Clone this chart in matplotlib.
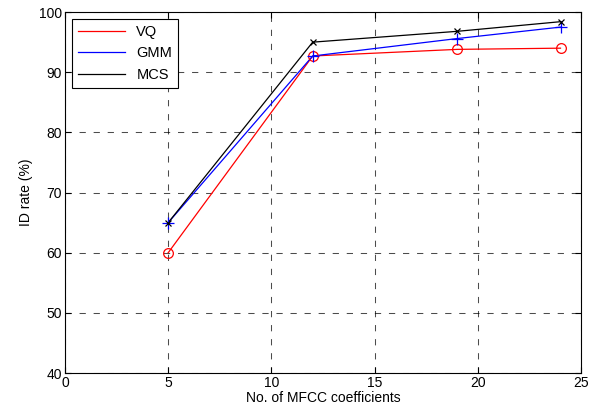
import matplotlib
matplotlib.use("Agg")
import matplotlib.pyplot as plt

plt.rcParams['font.family'] = ['Liberation Sans', 'DejaVu Sans']

mfcc = [5, 12, 19, 24]
vq = [60.0, 92.7, 93.8, 94.0]
gmm = [65.0, 92.7, 95.6, 97.5]
mcs = [65.0, 95.0, 96.8, 98.4]

fig = plt.figure(figsize=(5.9, 4.16), dpi=100)
ax = fig.add_axes([0.110, 0.103, 0.875, 0.868])

ax.plot(mfcc, vq, color='red', lw=0.9, label='VQ')
ax.plot(mfcc, gmm, color='blue', lw=0.9, label='GMM')
ax.plot(mfcc, mcs, color='black', lw=0.9, label='MCS')
ax.plot(mfcc, vq, 'o', color='red', mfc='none', ms=7, mew=0.9)
ax.plot(mfcc, gmm, '+', color='blue', ms=8, mew=0.9)
ax.plot(mfcc, mcs, 'x', color='black', ms=5, mew=0.9)

ax.set_xlim(0, 25)
ax.set_ylim(40, 100)
ax.set_xticks(range(0, 26, 5))
ax.set_yticks(range(40, 101, 10))
ax.grid(True, color='black', linestyle=(0, (6, 7.5)), lw=0.75, alpha=0.7)
ax.tick_params(direction='in', top=True, right=True, labelsize=10, length=4, pad=2)
for s in ax.spines.values():
    s.set_linewidth(0.8)

ax.set_xlabel('No. of MFCC coefficients', fontsize=10, labelpad=1)
ax.set_ylabel('ID rate (%)', fontsize=10, labelpad=4)

leg = ax.legend(loc='upper left', fontsize=10.5, fancybox=False, edgecolor='black',
                framealpha=1, handlelength=3.2, borderaxespad=0.5)
leg.get_frame().set_linewidth(0.8)

fig.savefig('out.png', dpi=100)
